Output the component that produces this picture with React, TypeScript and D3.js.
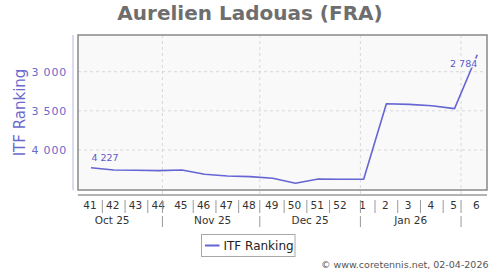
import React from "react";
import * as d3 from "d3";

const weeks: number[] = [41, 42, 43, 44, 45, 46, 47, 48, 49, 50, 51, 52, 1, 2, 3, 4, 5, 6];
const weekStarts: string[] = [
  "2025-10-06", "2025-10-13", "2025-10-20", "2025-10-27", "2025-11-03", "2025-11-10",
  "2025-11-17", "2025-11-24", "2025-12-01", "2025-12-08", "2025-12-15", "2025-12-22",
  "2025-12-29", "2026-01-05", "2026-01-12", "2026-01-19", "2026-01-26", "2026-02-02",
];
const ranks: number[] = [4227, 4255, 4259, 4264, 4255, 4310, 4332, 4340, 4361, 4425, 4370, 4374, 4374, 3409, 3417, 3434, 3472, 2784];
const yTicks: number[] = [3000, 3500, 4000];
const monthStarts: string[] = ["2025-11-01", "2025-12-01", "2026-01-01", "2026-02-01"];
const monthLabels: string[] = ["Oct 25", "Nov 25", "Dec 25", "Jan 26"];
const monthMids: string[] = ["2025-10-16", "2025-11-16", "2025-12-16", "2026-01-16"];
const labelledPoints: number[] = [0, 17];

const title = "Aurelien Ladouas (FRA)";
const seriesName = "ITF Ranking";
const credit = "\u00a9 www.coretennis.net, 02-04-2026";

const FONT = "DejaVu Sans, Verdana, sans-serif";
const SERIES = "#6565d4";
const AXIS_BLUE = "#6a6acc";

function day(s: string, plus = 0): Date {
  const d = new Date(s + "T00:00:00Z");
  return new Date(d.getTime() + plus * 86400000);
}

export default function App() {
  const W = 500, H = 270;
  const left = 78, right = 487, top = 35, bottom = 190;
  const x = d3.scaleUtc().domain([day("2025-10-06"), day("2026-02-09")]).range([left, right]);
  const y = d3.scaleLinear().domain([2531, 4511]).range([top, bottom]);
  const pts = weekStarts.map((s, i) => ({ d: day(s, 4), v: ranks[i], w: weeks[i] }));
  const line = d3.line<{ d: Date; v: number }>().x((p) => x(p.d)).y((p) => y(p.v));
  const fmt = (v: number) => d3.format(",")(v).replace(/,/g, " ");
  const ms = monthStarts.map((s) => day(s));

  const seps: number[] = [];
  for (let i = 1; i < pts.length; i++) {
    const a = pts[i - 1].d, b = pts[i].d;
    const m = ms.find((t) => t > a && t <= b);
    seps.push(m ? x(m) : (x(a) + x(b)) / 2);
  }

  return (
    <svg width={W} height={H} style={{ position: "absolute", left: 0, top: 0, fontFamily: FONT }}>
      <rect x={0} y={0} width={W} height={H} fill="#ffffff" />
      <text x={250} y={20} textAnchor="middle" fontSize={20} fontWeight="bold" fill="#6e6e6e">{title}</text>

      <rect x={left} y={top} width={right - left} height={bottom - top} fill="#f9f9f9" />
      {yTicks.map((t) => (
        <line key={"gy" + t} x1={left} x2={right} y1={y(t)} y2={y(t)} stroke="#d8d8d8" strokeDasharray="3,3" />
      ))}
      {ms.map((m, i) => (
        <line key={"gx" + i} x1={x(m)} x2={x(m)} y1={top} y2={bottom + 4} stroke="#d8d8d8" strokeDasharray="3,3" />
      ))}
      <rect x={left} y={top} width={right - left} height={bottom - top} fill="none" stroke="#888" strokeWidth={1.5} />

      <line x1={73} x2={73} y1={top} y2={bottom} stroke="#b4b4e2" strokeWidth={1} />
      {yTicks.map((t) => (
        <text key={"ty" + t} x={67} y={y(t) + 4} textAnchor="end" fontSize={11} letterSpacing={0.8} fill={AXIS_BLUE}>{fmt(t)}</text>
      ))}
      <text transform={`translate(25,112.5) rotate(-90)`} textAnchor="middle" fontSize={15} fill={AXIS_BLUE}>{seriesName}</text>

      <path d={line(pts) || ""} fill="none" stroke={SERIES} strokeWidth={1.6} strokeLinejoin="round" />
      {labelledPoints.map((i) => {
        const p = pts[i];
        const last = i === pts.length - 1;
        return (
          <text key={"dl" + i} x={x(p.d) + (last ? 0 : 0.5)} y={y(p.v) + (last ? 12 : -6.5)} textAnchor={last ? "end" : "start"}
            fontSize={9.5} fill="#5a5acc" stroke="#f9f9f9" strokeWidth={3} paintOrder="stroke" strokeLinejoin="round">{fmt(p.v)}</text>
        );
      })}

      <line x1={left} x2={right} y1={195} y2={195} stroke="#9a9a9a" strokeWidth={1.5} />
      {pts.map((p, i) => (
        <text key={"wk" + i} x={x(p.d) - 1} y={209} textAnchor="middle" fontSize={10.5} fill="#333">{p.w}</text>
      ))}
      {seps.map((sx, i) => (
        <line key={"sp" + i} x1={sx} x2={sx} y1={200} y2={213} stroke="#999" strokeWidth={1} />
      ))}
      {monthLabels.map((l, i) => (
        <text key={"ml" + i} x={x(day(monthMids[i], 0.5))} y={224} textAnchor="middle" fontSize={10.5} fill="#333">{l}</text>
      ))}
      {ms.map((m, i) => (
        <line key={"ms" + i} x1={x(m)} x2={x(m)} y1={216} y2={227} stroke="#999" strokeWidth={1} />
      ))}

      <rect x={201.5} y={234.5} width={93.5} height={22} fill="#fff" stroke="#a8a8a8" strokeWidth={1} />
      <line x1={205} x2={219.5} y1={245.5} y2={245.5} stroke={SERIES} strokeWidth={2} />
      <text x={223.5} y={250} fontSize={12} fill="#222">{seriesName}</text>

      <text x={488.5} y={267.5} textAnchor="end" fontSize={9.5} fill="#555">{credit}</text>
    </svg>
  );
}
